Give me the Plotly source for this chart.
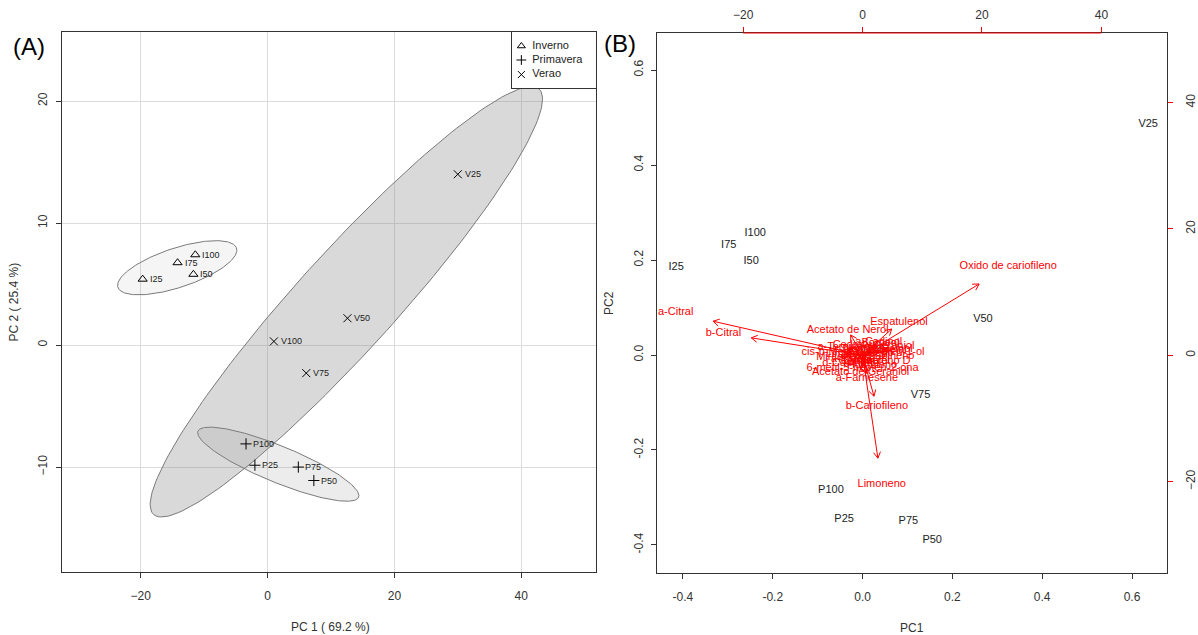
import numpy as np
import plotly.graph_objects as go

W, H = 1198, 635
FONT = "Liberation Sans, Arial, sans-serif"

# ---------------- Panel A: PCA scores ----------------
inv_labels = ["I25", "I50", "I75", "I100"]
inv_pc1 = [-19.7, -11.7, -14.2, -11.4]
inv_pc2 = [5.4, 5.8, 6.75, 7.4]

pri_labels = ["P25", "P50", "P75", "P100"]
pri_pc1 = [-2.0, 7.3, 4.85, -3.4]
pri_pc2 = [-9.85, -11.1, -10.0, -8.1]

ver_labels = ["V25", "V50", "V75", "V100"]
ver_pc1 = [30.0, 12.6, 6.1, 1.0]
ver_pc2 = [14.0, 2.2, -2.3, 0.3]

groups = ["Inverno", "Primavera", "Verao"]
group_symbols = ["triangle-up-open", "cross-thin-open", "x-thin-open"]
group_fill_alpha = [0.08, 0.15, 0.30]

# ---------------- Panel B: biplot ----------------
bi_labels = ["I25", "I50", "I75", "I100", "P25", "P50", "P75", "P100",
             "V25", "V50", "V75", "V100"]
bi_pc1 = [-0.415, -0.248, -0.298, -0.239, -0.041, 0.155, 0.102, -0.0705,
          0.636, 0.268, 0.129, 0.021]
bi_pc2 = [0.185, 0.198, 0.232, 0.257, -0.346, -0.389, -0.350, -0.285,
          0.486, 0.075, -0.084, 0.010]

load_names = ["Oxido de cariofileno", "a-Citral", "b-Citral", "Limoneno",
              "b-Cariofileno", "Espatulenol", "Acetato de Nerol",
              "Linalol", "Nerol", "Citronelal", "Germacreno D", "d-Cadineno",
              "Mirceno", "Sabineno", "a-Pineno", "p-Cimeno", "Borneol",
              "a-Terpineol", "Humuleno", "Elemol",
              "Cedrol", "a-Cadinol", "Geraniol", "Citronelol",
              "cis-p-Menta-2,8-dien-1-ol",
              "6-metil-5-hepten-2-ona", "Acetato de Geraniol", "a-Farnesene"]
load_x = [24.4, -31.3, -23.3, 3.21, 2.39, 6.1, -2.49,
          -3.5, -1.0, 3.5, 2.0, -2.0,
          -4.5, 4.8, -1.6, 1.2, 3.0, -3.0, 1.6, 5.6,
          -2.3, 2.7, 5.2, 0.67,
          0.08,
          0.0, -0.33, 0.72]
load_y = [14.1, 6.74, 3.45, -20.35, -8.1, 5.2, 4.03,
          0.2, 1.0, 0.8, -0.9, -1.2,
          -0.3, -0.2, -0.6, 0.4, 1.9, 1.3, -1.6, 0.9,
          1.6, 2.1, 1.4, -0.95,
          0.47,
          -2.0, -2.69, -3.64]

# ---------------- layout geometry ----------------
A_x = [62 / W, 597 / W]
A_y = [1 - 572 / H, 1 - 32 / H]
B_x = [658 / W, 1169 / W]
B_y = [1 - 573 / H, 1 - 33 / H]
LEG_x = [513 / W, 597 / W]
LEG_y = [1 - 88 / H, 1 - 32 / H]
A_xr = [-32.44, 51.8]
A_yr = [-18.6, 25.66]
B_r = [-0.458, 0.678]
B_yr = [-0.459, 0.678]
S_r = [-34.45, 51.0]

fig = go.Figure()

# ellipses (95% normal-theory, from group covariance)
k = np.sqrt(-2 * np.log(0.05))
t = np.linspace(0, 2 * np.pi, 200)
all_x = [inv_pc1, pri_pc1, ver_pc1]
all_y = [inv_pc2, pri_pc2, ver_pc2]
for gx, gy, a in zip(all_x, all_y, group_fill_alpha):
    pts = np.column_stack([gx, gy])
    mu = pts.mean(axis=0)
    cov = np.cov(pts.T)
    vals, vecs = np.linalg.eigh(cov)
    circ = np.vstack([np.cos(t), np.sin(t)])
    ell = (vecs @ np.diag(np.sqrt(vals)) @ circ) * k
    fig.add_trace(go.Scatter(
        x=ell[0] + mu[0], y=ell[1] + mu[1], mode="lines", fill="toself",
        fillcolor=f"rgba(128,128,128,{a})",
        line=dict(color="#7a7a7a", width=1), hoverinfo="skip",
        showlegend=False, xaxis="x", yaxis="y"))

annotations = []
all_lab = [inv_labels, pri_labels, ver_labels]
for g, sym, gx, gy, gl in zip(groups, group_symbols, all_x, all_y, all_lab):
    fig.add_trace(go.Scatter(
        x=gx, y=gy, mode="markers", name=g, showlegend=False,
        marker=dict(symbol=sym, size=8, color="black",
                    line=dict(color="black", width=1)),
        xaxis="x", yaxis="y"))
    for px, py, lab in zip(gx, gy, gl):
        annotations.append(dict(
            text=lab, x=px, y=py, xref="x", yref="y", xanchor="left",
            yanchor="middle", xshift=5, showarrow=False,
            font=dict(size=9, color="#222", family=FONT)))

# legend box (drawn on its own small axes)
leg_y = [0.75, 0.5, 0.24]
fig.add_trace(go.Scatter(
    x=[0, 1, 1, 0, 0], y=[0, 0, 1, 1, 0], mode="lines", fill="toself",
    fillcolor="white", line=dict(color="white", width=0),
    showlegend=False, hoverinfo="skip", xaxis="x4", yaxis="y4"))
for g, sym, ly in zip(groups, group_symbols, leg_y):
    fig.add_trace(go.Scatter(
        x=[0.11], y=[ly], mode="markers", showlegend=False,
        marker=dict(symbol=sym, size=7, color="black",
                    line=dict(color="black", width=1)),
        xaxis="x4", yaxis="y4"))
    fig.add_trace(go.Scatter(
        x=[0.24], y=[ly], mode="text", text=[g], textposition="middle right",
        textfont=dict(size=11, color="#222", family=FONT),
        showlegend=False, hoverinfo="skip", xaxis="x4", yaxis="y4"))

# panel B scores
fig.add_trace(go.Scatter(
    x=bi_pc1, y=bi_pc2, mode="text", text=bi_labels,
    textfont=dict(size=11, color="#222", family=FONT),
    showlegend=False, xaxis="x2", yaxis="y2"))

# arrows (to 0.8 of loading, labels at loading)
sx = (B_x[1] - B_x[0]) * W / (S_r[1] - S_r[0])
sy = (B_y[1] - B_y[0]) * H / (S_r[1] - S_r[0])
ax, ay = [], []
L = 7.0
for lx, ly in zip(load_x, load_y):
    tx, ty = 0.8 * lx, 0.8 * ly
    ax += [0, tx, None]
    ay += [0, ty, None]
    th = np.arctan2(ty * sy, tx * sx)
    for d in (np.pi / 6, -np.pi / 6):
        hx = tx - L * np.cos(th + d) / sx
        hy = ty - L * np.sin(th + d) / sy
        ax += [tx, hx, None]
        ay += [ty, hy, None]
fig.add_trace(go.Scatter(
    x=ax, y=ay, mode="lines", line=dict(color="red", width=1),
    showlegend=False, hoverinfo="skip", xaxis="x3", yaxis="y3"))
fig.add_trace(go.Scatter(
    x=load_x, y=load_y, mode="text", text=load_names,
    textfont=dict(size=11, color="red", family=FONT),
    showlegend=False, xaxis="x3", yaxis="y3"))

tick_font = dict(size=12, color="#333", family=FONT)
common = dict(showline=True, mirror=True, linecolor="#333", linewidth=1,
              ticks="outside", ticklen=5, tickcolor="#333", zeroline=False,
              tickfont=tick_font)


def ann(text, x, y, size=12, angle=0, color="#333"):
    return dict(text=text, x=x / W, y=1 - y / H, xref="paper", yref="paper",
                xanchor="center", yanchor="middle", showarrow=False,
                textangle=angle, font=dict(size=size, color=color, family=FONT))


annotations += [
    ann("(A)", 29, 46, size=24, color="black"),
    ann("(B)", 621, 43, size=24, color="black"),
    ann("PC 1 ( 69.2 %)", 331, 626.5),
    ann("PC 2 ( 25.4 %)", 14.5, 302, angle=-90),
    ann("PC1", 914, 627.5),
    ann("PC2", 610, 303, angle=-90),
]

fig.update_layout(
    width=W, height=H, margin=dict(l=0, r=0, t=0, b=0),
    paper_bgcolor="white", plot_bgcolor="white",
    font=dict(family=FONT), showlegend=False,
    xaxis=dict(domain=A_x, range=A_xr, tickvals=[-20, 0, 20, 40],
               showgrid=True, gridcolor="#dcdcdc", gridwidth=1,
               anchor="y", ticklabelstandoff=8, **common),
    yaxis=dict(domain=A_y, range=A_yr, tickvals=[-10, 0, 10, 20],
               showgrid=True, gridcolor="#dcdcdc", gridwidth=1,
               tickangle=-90, anchor="x", ticklabelstandoff=4, **common),
    xaxis2=dict(domain=B_x, range=B_r, tickvals=[-0.4, -0.2, 0, 0.2, 0.4, 0.6],
                ticktext=["-0.4", "-0.2", "0.0", "0.2", "0.4", "0.6"],
                showgrid=False, anchor="y2", ticklabelstandoff=8, **common),
    yaxis2=dict(domain=B_y, range=B_yr, tickvals=[-0.4, -0.2, 0, 0.2, 0.4, 0.6],
                ticktext=["-0.4", "-0.2", "0.0", "0.2", "0.4", "0.6"],
                showgrid=False, tickangle=-90, anchor="x2",
                ticklabelstandoff=3, **common),
    xaxis3=dict(overlaying="x2", side="top", anchor="y2", range=S_r,
                tickvals=[-20, 0, 20, 40], ticks="outside", ticklen=5,
                tickcolor="red", showgrid=False, zeroline=False,
                showline=False, tickfont=tick_font, ticklabelstandoff=3),
    yaxis3=dict(overlaying="y2", side="right", anchor="x2", range=S_r,
                tickvals=[-20, 0, 20, 40], ticks="outside", ticklen=5,
                tickcolor="red", showgrid=False, zeroline=False,
                showline=False, tickangle=-90, tickfont=tick_font,
                ticklabelstandoff=8),
    xaxis4=dict(domain=LEG_x, range=[0, 1], anchor="y4", showgrid=False,
                zeroline=False, showticklabels=False, ticks="",
                showline=True, mirror=True, linecolor="#333", linewidth=1,
                fixedrange=True),
    yaxis4=dict(domain=LEG_y, range=[0, 1], anchor="x4", showgrid=False,
                zeroline=False, showticklabels=False, ticks="",
                showline=True, mirror=True, linecolor="#333", linewidth=1,
                fixedrange=True),
    shapes=[dict(type="line", xref="x3", yref="paper", x0=-20, x1=40,
                 y0=B_y[1], y1=B_y[1], line=dict(color="red", width=1))],
    annotations=annotations,
)

fig.write_html("out.html")
